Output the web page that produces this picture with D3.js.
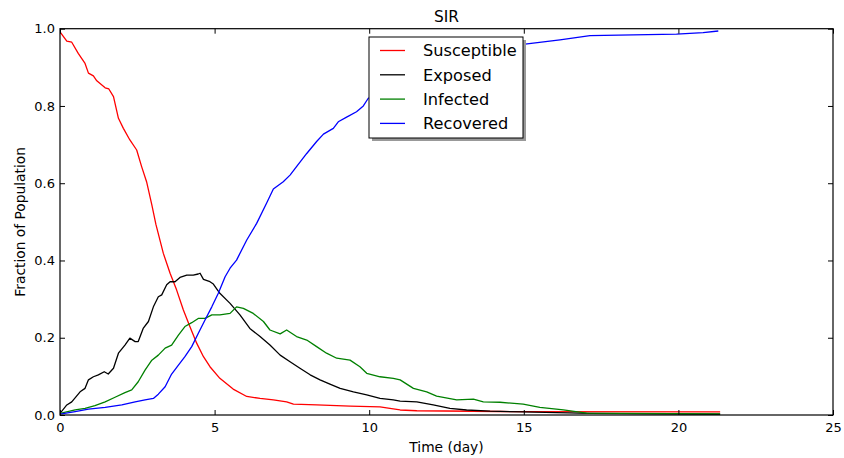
<!DOCTYPE html>
<html>
<head>
<meta charset="utf-8">
<script src="https://cdn.jsdelivr.net/npm/d3@7"></script>
<style>
  html, body { margin: 0; padding: 0; background: #fff; }
  svg { display: block; font-family: "DejaVu Sans", sans-serif; }
</style>
</head>
<body>
<svg id="chart" width="844" height="458"></svg>
<script>
// ---- data (time in days, fraction of population) ----
const seriesNames = ["Susceptible", "Exposed", "Infected", "Recovered"];
const seriesColors = ["#ff0000", "#000000", "#008000", "#0000ff"];

const susceptible = [[0,0.992],[0.22,0.968],[0.38,0.965],[0.59,0.936],[0.81,0.910],[0.92,0.885],[1.08,0.878],[1.19,0.865],[1.46,0.847],[1.58,0.844],[1.73,0.824],[1.89,0.768],[2.05,0.742],[2.26,0.712],[2.48,0.686],[2.64,0.643],[2.80,0.604],[2.97,0.544],[3.10,0.494],[3.34,0.419],[3.56,0.367],[3.77,0.324],[3.99,0.272],[4.20,0.229],[4.42,0.186],[4.64,0.151],[4.85,0.125],[5.17,0.095],[5.60,0.067],[6.04,0.048],[6.47,0.043],[6.90,0.039],[7.33,0.034],[7.55,0.028],[8.30,0.026],[9.38,0.023],[10.35,0.021],[10.67,0.017],[11.0,0.013],[11.54,0.011],[14.23,0.009],[21.35,0.008]];

const exposed = [[0,0.004],[0.22,0.026],[0.38,0.034],[0.65,0.060],[0.81,0.069],[0.92,0.091],[1.08,0.099],[1.24,0.104],[1.43,0.112],[1.56,0.106],[1.73,0.121],[1.89,0.160],[2.10,0.181],[2.26,0.199],[2.43,0.190],[2.53,0.190],[2.69,0.224],[2.86,0.242],[3.02,0.280],[3.18,0.306],[3.29,0.311],[3.45,0.337],[3.56,0.345],[3.72,0.345],[3.88,0.356],[4.10,0.362],[4.31,0.362],[4.47,0.365],[4.53,0.367],[4.64,0.351],[4.85,0.345],[4.96,0.339],[5.17,0.315],[5.50,0.289],[5.82,0.259],[6.14,0.224],[6.47,0.203],[6.79,0.181],[7.12,0.155],[7.44,0.138],[7.76,0.121],[8.09,0.104],[8.41,0.091],[8.73,0.080],[9.06,0.069],[9.49,0.060],[9.92,0.052],[10.35,0.043],[10.78,0.039],[11.0,0.036],[11.54,0.034],[12.07,0.026],[12.61,0.017],[13.15,0.013],[13.91,0.010],[14.98,0.008],[16.06,0.006],[17.14,0.004],[19.3,0.003],[21.35,0.002]];

const infected = [[0,0.004],[0.49,0.013],[0.81,0.017],[1.13,0.024],[1.46,0.034],[1.78,0.046],[2.10,0.058],[2.32,0.065],[2.53,0.086],[2.75,0.116],[2.97,0.142],[3.18,0.155],[3.40,0.173],[3.61,0.181],[3.83,0.207],[4.04,0.229],[4.26,0.239],[4.47,0.250],[4.69,0.250],[4.91,0.259],[5.17,0.259],[5.50,0.263],[5.71,0.280],[5.93,0.276],[6.25,0.263],[6.58,0.242],[6.79,0.220],[7.12,0.210],[7.33,0.220],[7.65,0.203],[7.98,0.194],[8.30,0.177],[8.62,0.160],[8.95,0.147],[9.38,0.142],[9.70,0.125],[9.92,0.108],[10.35,0.099],[10.78,0.095],[11.0,0.091],[11.43,0.069],[11.86,0.060],[12.18,0.049],[12.83,0.039],[13.37,0.041],[13.69,0.034],[14.23,0.033],[14.98,0.028],[15.52,0.020],[16.28,0.013],[17.03,0.005],[18.2,0.004],[21.35,0.003]];

const recovered = [[0,0.002],[0.49,0.009],[0.92,0.015],[1.46,0.020],[2.0,0.026],[2.43,0.034],[2.75,0.039],[3.02,0.043],[3.18,0.054],[3.40,0.073],[3.61,0.106],[3.83,0.129],[4.04,0.151],[4.26,0.177],[4.47,0.211],[4.69,0.246],[4.91,0.280],[5.12,0.315],[5.34,0.358],[5.50,0.380],[5.71,0.401],[6.04,0.453],[6.36,0.496],[6.68,0.548],[6.90,0.585],[7.22,0.604],[7.44,0.621],[7.65,0.643],[7.98,0.677],[8.30,0.708],[8.52,0.727],[8.84,0.742],[9.0,0.759],[9.27,0.771],[9.59,0.785],[9.81,0.800],[9.97,0.820],[11.0,0.860],[12.0,0.905],[13.0,0.932],[14.0,0.948],[15.04,0.960],[16.17,0.971],[17.14,0.982],[19.94,0.986],[20.8,0.990],[21.29,0.994]];

const xTicks = [0, 5, 10, 15, 20, 25];
const yTicks = [0, 0.2, 0.4, 0.6, 0.8, 1.0];
const titleText = "SIR";
const xLabel = "Time (day)";
const yLabel = "Fraction of Population";

// ---- layout ----
const svg = d3.select("#chart");
const pLeft = 60, pRight = 833, pTop = 28.7, pBottom = 415;
const x = d3.scaleLinear().domain([0, 25]).range([pLeft, pRight]);
const y = d3.scaleLinear().domain([0, 1]).range([pBottom, pTop]);

svg.append("defs").append("clipPath").attr("id", "clip")
  .append("rect").attr("x", pLeft).attr("y", pTop)
  .attr("width", pRight - pLeft).attr("height", pBottom - pTop);

// lines
const line = d3.line().x(d => x(d[0])).y(d => y(d[1]));
const allSeries = [susceptible, exposed, infected, recovered];
const gLines = svg.append("g").attr("clip-path", "url(#clip)");
allSeries.forEach((s, i) => {
  gLines.append("path").datum(s)
    .attr("d", line)
    .attr("fill", "none")
    .attr("stroke", seriesColors[i])
    .attr("stroke-width", 1.3)
    .attr("stroke-linejoin", "round");
});

// axes (ticks inward on all four sides)
const tickLen = 5;
const fmtY = d3.format(".1f");
const axB = d3.axisBottom(x).tickValues(xTicks).tickSizeInner(-tickLen).tickSizeOuter(0).tickPadding(7.5).tickFormat(d3.format("d"));
const axT = d3.axisTop(x).tickValues(xTicks).tickSizeInner(-tickLen).tickSizeOuter(0).tickFormat("");
const axL = d3.axisLeft(y).tickValues(yTicks).tickSizeInner(-tickLen).tickSizeOuter(0).tickPadding(5).tickFormat(fmtY);
const axR = d3.axisRight(y).tickValues(yTicks).tickSizeInner(-tickLen).tickSizeOuter(0).tickFormat("");

function styleAxis(g) {
  g.select(".domain").remove();
  g.selectAll(".tick line").attr("stroke", "#000").attr("stroke-width", 1);
  g.selectAll(".tick text").attr("fill", "#000").style("font-size", "13px").style("font-family", "DejaVu Sans");
}
svg.append("g").attr("transform", `translate(0,${pBottom})`).call(axB).call(styleAxis);
svg.append("g").attr("transform", `translate(0,${pTop})`).call(axT).call(styleAxis);
svg.append("g").attr("transform", `translate(${pLeft},0)`).call(axL).call(styleAxis);
svg.append("g").attr("transform", `translate(${pRight},0)`).call(axR).call(styleAxis);

// frame
svg.append("rect").attr("x", pLeft).attr("y", pTop)
  .attr("width", pRight - pLeft).attr("height", pBottom - pTop)
  .attr("fill", "none").attr("stroke", "#000").attr("stroke-width", 1.2);

// title and axis labels
svg.append("text").attr("x", (pLeft + pRight) / 2).attr("y", 21.5)
  .attr("text-anchor", "middle").style("font-size", "15.4px").text(titleText);
svg.append("text").attr("x", (pLeft + pRight) / 2).attr("y", 451.5)
  .attr("text-anchor", "middle").style("font-size", "13.8px").text(xLabel);
svg.append("text").attr("transform", `translate(25,${(pTop + pBottom) / 2}) rotate(-90)`)
  .attr("text-anchor", "middle").style("font-size", "13.8px").text(yLabel);

// legend
const lg = { x: 369, y: 37, w: 154, h: 101 };
svg.append("rect").attr("x", lg.x + 3).attr("y", lg.y + 3).attr("width", lg.w).attr("height", lg.h)
  .attr("fill", "#999");
svg.append("rect").attr("x", lg.x).attr("y", lg.y).attr("width", lg.w).attr("height", lg.h)
  .attr("fill", "#fff").attr("stroke", "#000").attr("stroke-width", 1);
const rowY = [50.5, 74.8, 99.1, 123.4];
seriesNames.forEach((name, i) => {
  svg.append("line").attr("x1", 380).attr("x2", 405).attr("y1", rowY[i]).attr("y2", rowY[i])
    .attr("stroke", seriesColors[i]).attr("stroke-width", 1.3);
  svg.append("text").attr("x", 423).attr("y", rowY[i]).attr("dy", "0.36em")
    .style("font-size", "16.2px").text(name);
});
</script>
</body>
</html>
